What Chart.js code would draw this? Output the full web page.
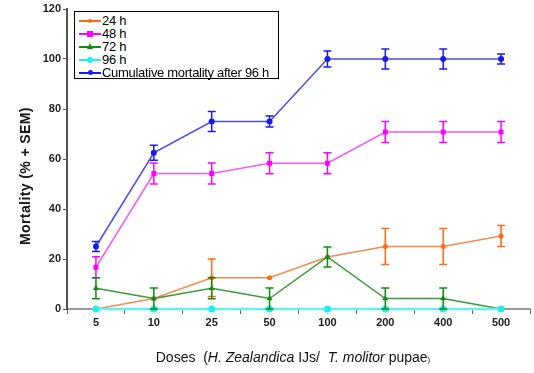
<!DOCTYPE html>
<html>
<head>
<meta charset="utf-8">
<script src="https://cdn.jsdelivr.net/npm/chart.js@4"></script>
<style>
  html, body { margin: 0; padding: 0; background: #fff; }
  #wrap { position: relative; width: 534px; height: 373px; font-family: Arial, "Liberation Sans", sans-serif; }
  #chart { position: absolute; left: 0; top: 0; }
  #legend {
    position: absolute; left: 74px; top: 11px; width: 205px; height: 68px;
    border: 1px solid #000; background: #fff; padding: 2px 0 0 0; box-sizing: border-box;
  }
  .row { position: relative; height: 13px; font-size: 13px; line-height: 13px; color: #000; white-space: nowrap; letter-spacing: -0.3px; }
  .row .sample { position: absolute; left: 4px; top: 6px; width: 22px; height: 1.5px; }
  .row .mark { position: absolute; }
  .row .txt { position: absolute; left: 27px; top: 0; }
  #ytitle {
    position: absolute; left: 25px; top: 176px; font-weight: bold; font-size: 14px; color: #111;
    transform: translate(-50%, -50%) rotate(-90deg); white-space: nowrap; letter-spacing: 0.4px;
  }
  #xtitle {
    position: absolute; left: 293px; top: 357px; font-size: 14px; color: #111;
    transform: translate(-50%, -50%); white-space: nowrap;
  }
  #xtitle small { font-size: 8px; }
</style>
</head>
<body>
<div id="wrap">
  <canvas id="chart" width="534" height="373"></canvas>
  <div id="legend"></div>
  <div id="ytitle">Mortality (% + SEM)</div>
  <div id="xtitle">Doses &nbsp;(<i>H. Zealandica</i> IJs/ &nbsp;<i>T. molitor</i> pupae<small>)</small></div>
</div>
<script>
const doses = ["5", "10", "25", "50", "100", "200", "400", "500"];
const yTicks = [0, 20, 40, 60, 80, 100, 120];

const seriesNames = ["24 h", "48 h", "72 h", "96 h", "Cumulative mortality after 96 h"];
const seriesColors = ["#ff6a13", "#ff00ff", "#118a11", "#22eeee", "#1a1aee"];
const lineColors = ["#f58a4a", "#f25af2", "#3a9a3a", "#66f0f0", "#4a4aee"];
const pointShapes = ["circle", "rect", "triangle", "circle", "circle"];
const pointSizes = [2.5, 3.5, 3.5, 3.5, 3];
const lineWidths = [1.5, 1.5, 1.5, 2.5, 1.5];

const mort24 = [0, 4.2, 12.5, 12.5, 20.8, 25, 25, 29.2];
const mort48 = [16.7, 54.2, 54.2, 58.3, 58.3, 70.8, 70.8, 70.8];
const mort72 = [8.3, 4.2, 8.3, 4.2, 20.8, 4.2, 4.2, 0];
const mort96 = [0, 0, 0, 0, 0, 0, 0, 0];
const mortCum = [25, 62.5, 75, 75, 100, 100, 100, 100];

const sem24 = [0, 0, 7.5, 0, 0, 7.2, 7.2, 4.2];
const sem48 = [4.2, 4.2, 4.2, 4.2, 4.2, 4.2, 4.2, 4.2];
const sem72 = [4.2, 4.2, 4.2, 4.2, 4, 4.2, 4.2, 0];
const sem96 = [0, 0, 0, 0, 0, 0, 0, 0];
const semCum = [2, 3, 4, 2.2, 3.2, 4, 4, 2];

const allMort = [mort24, mort48, mort72, mort96, mortCum];
const allSem = [sem24, sem48, sem72, sem96, semCum];

// legend rows: short line with the series marker, then the name
const legend = document.getElementById("legend");
seriesNames.forEach((name, i) => {
  const row = document.createElement("div");
  row.className = "row";
  const line = document.createElement("div");
  line.className = "sample";
  line.style.background = seriesColors[i];
  row.appendChild(line);
  const mark = document.createElement("div");
  mark.className = "mark";
  const s = pointSizes[i] * 2 - 1;
  if (pointShapes[i] === "triangle") {
    mark.style.left = (15 - s / 2) + "px";
    mark.style.top = (6.75 - s * 0.6) + "px";
    mark.style.borderLeft = (s / 2) + "px solid transparent";
    mark.style.borderRight = (s / 2) + "px solid transparent";
    mark.style.borderBottom = s + "px solid " + seriesColors[i];
  } else {
    mark.style.left = (15 - s / 2) + "px";
    mark.style.top = (6.75 - s / 2) + "px";
    mark.style.width = s + "px";
    mark.style.height = s + "px";
    mark.style.background = seriesColors[i];
    if (pointShapes[i] === "circle") mark.style.borderRadius = "50%";
  }
  row.appendChild(mark);
  const txt = document.createElement("span");
  txt.className = "txt";
  txt.textContent = name;
  row.appendChild(txt);
  legend.appendChild(row);
});

// vertical SEM bars with caps, drawn from each dataset's sem values
const errorBars = {
  id: "errorBars",
  afterDatasetsDraw(chart) {
    const { ctx, scales: { x, y } } = chart;
    ctx.save();
    chart.data.datasets.forEach(ds => {
      ds.data.forEach((v, i) => {
        const e = ds.sem[i];
        if (!e) return;
        const px = x.getPixelForValue(i);
        const top = y.getPixelForValue(v + e);
        const bot = y.getPixelForValue(v - e);
        ctx.strokeStyle = ds.borderColor;
        ctx.lineWidth = 1.5;
        ctx.beginPath();
        ctx.moveTo(px, top); ctx.lineTo(px, bot);
        ctx.moveTo(px - 4, top); ctx.lineTo(px + 4, top);
        ctx.moveTo(px - 4, bot); ctx.lineTo(px + 4, bot);
        ctx.stroke();
      });
    });
    ctx.restore();
  }
};

const datasets = seriesNames.map((name, i) => ({
  label: name,
  data: allMort[i],
  sem: allSem[i],
  borderColor: seriesColors[i],
  backgroundColor: seriesColors[i],
  pointStyle: pointShapes[i],
  pointRadius: pointSizes[i],
  pointBorderWidth: 0,
  borderWidth: lineWidths[i],
  segment: { borderColor: lineColors[i] },
  tension: 0,
  clip: false,
  order: i === 3 ? 0 : 5 - i
}));

new Chart(document.getElementById("chart"), {
  type: "line",
  data: { labels: doses, datasets: datasets },
  plugins: [errorBars],
  options: {
    responsive: false,
    animation: false,
    devicePixelRatio: 1,
    layout: { padding: { top: 9, right: 0, left: 0, bottom: 0 } },
    plugins: { legend: { display: false }, tooltip: { enabled: false } },
    scales: {
      x: {
        offset: true,
        afterFit: s => { s.height = 64; },
        grid: { offset: true, drawOnChartArea: false, drawTicks: true, tickLength: 5, color: "#666", lineWidth: 1 },
        border: { color: "#999", width: 2 },
        ticks: { color: "#222", padding: 2, font: { family: "Arial, 'Liberation Sans'", size: 11, weight: "bold" } }
      },
      y: {
        min: yTicks[0],
        max: yTicks[yTicks.length - 1],
        afterFit: s => { s.width = 67; },
        afterBuildTicks: s => { s.ticks = yTicks.map(v => ({ value: v })); },
        grid: { drawOnChartArea: false, drawTicks: true, tickLength: 4, color: "#555", lineWidth: 1 },
        border: { color: "#555", width: 2 },
        ticks: { color: "#222", padding: 2, font: { family: "Arial, 'Liberation Sans'", size: 11, weight: "bold" } }
      }
    }
  }
});
</script>
</body>
</html>
